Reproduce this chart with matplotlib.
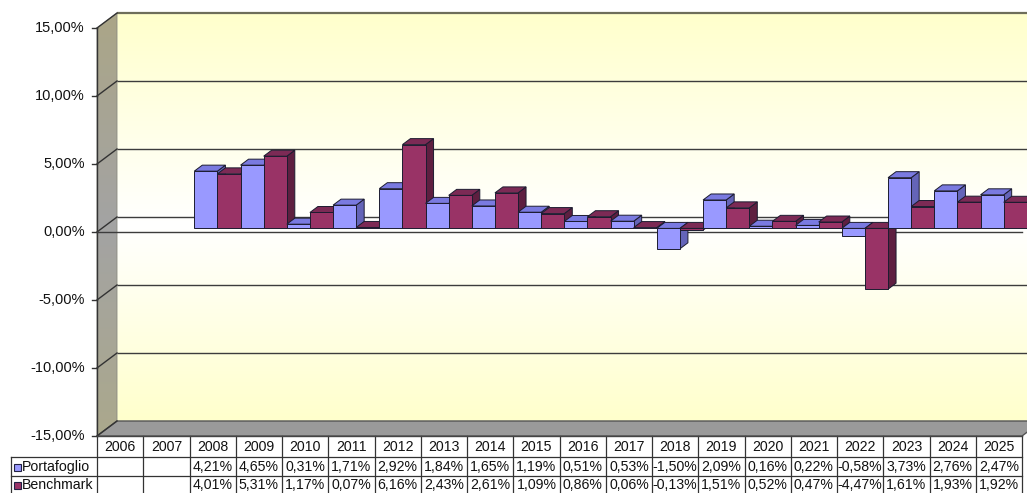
import numpy as np
import matplotlib
matplotlib.use("Agg")
import matplotlib.pyplot as plt
from matplotlib.patches import Polygon, Rectangle

plt.rcParams['font.family'] = ['Liberation Sans', 'DejaVu Sans']

# ---------------- data ----------------
years = ["2006", "2007", "2008", "2009", "2010", "2011", "2012", "2013", "2014", "2015",
         "2016", "2017", "2018", "2019", "2020", "2021", "2022", "2023", "2024", "2025"]
portafoglio = [None, None, 4.21, 4.65, 0.31, 1.71, 2.92, 1.84, 1.65, 1.19,
               0.51, 0.53, -1.50, 2.09, 0.16, 0.22, -0.58, 3.73, 2.76, 2.47]
benchmark = [None, None, 4.01, 5.31, 1.17, 0.07, 6.16, 2.43, 2.61, 1.09,
             0.86, 0.06, -0.13, 1.51, 0.52, 0.47, -4.47, 1.61, 1.93, 1.92]
series_names = ["Portafoglio", "Benchmark"]
y_ticks = [15, 10, 5, 0, -5, -10, -15]

# ---------------- styles ----------------
front_cols = ["#9999FF", "#993366"]
top_cols = ["#7A7AE0", "#7C2A55"]
side_cols = ["#6464B8", "#5E1F40"]
edge_col = "#1c1c30"

W, H = 1027, 493
fig = plt.figure(figsize=(W / 100, H / 100), dpi=100)
ax = fig.add_axes([0, 0, 1, 1])
ax.set_axis_off()

# pixel geometry -> data units
PXX = 46.25          # px per category
PXY = 13.6           # px per percent
X0 = 97              # px of category 0 front
Y15 = 28             # px of +15% front
def px2x(px):
    return (px - X0) / PXX
def py2y(py):
    return 15 - (py - Y15) / PXY
DX = 20 / PXX        # depth offset
DY = 15 / PXY
n = len(years)
ymin, ymax = -15, 15

# back wall gradient
N = 300
t = np.linspace(0, 1, N)
top_c = np.array([1.0, 1.0, 0.80])
mid_c = np.array([1.0, 1.0, 1.0])
bot_c = np.array([1.0, 1.0, 0.80])
mid_pos = 0.52
grad = np.zeros((N, 1, 3))
for k, tt in enumerate(t):
    if tt < mid_pos:
        a = tt / mid_pos
        grad[k, 0] = top_c * (1 - a) + mid_c * a
    else:
        a = (tt - mid_pos) / (1 - mid_pos)
        grad[k, 0] = mid_c * (1 - a) + bot_c * a
ax.imshow(grad, extent=(DX, n + DX, ymin + DY, ymax + DY), origin='upper',
          aspect='auto', zorder=0, interpolation='bilinear')

# side wall gradient
sg_top = np.array([0.67, 0.65, 0.53])
sg_mid = np.array([0.64, 0.64, 0.64])
sg_bot = np.array([0.67, 0.66, 0.55])
sgrad = np.zeros((N, 1, 3))
for k, tt in enumerate(t):
    if tt < 0.5:
        a = tt / 0.5
        sgrad[k, 0] = sg_top * (1 - a) + sg_mid * a
    else:
        a = (tt - 0.5) / 0.5
        sgrad[k, 0] = sg_mid * (1 - a) + sg_bot * a
side_poly = Polygon([(0, ymin), (DX, ymin + DY), (DX, ymax + DY), (0, ymax)],
                    closed=True, facecolor='none', edgecolor='#8a8a80', lw=0.6, zorder=1)
ax.add_patch(side_poly)
sim = ax.imshow(sgrad, extent=(0, DX, ymin, ymax + DY), origin='upper',
                aspect='auto', zorder=0.5, interpolation='bilinear')
sim.set_clip_path(side_poly)

# floor
floor = Polygon([(0, ymin), (DX, ymin + DY), (n + DX, ymin + DY), (n, ymin)],
                closed=True, facecolor='#9a9a9a', edgecolor='#555555', lw=1.0, zorder=1)
ax.add_patch(floor)

# value axis line
ax.plot([0, 0], [ymin, ymax], color='#333333', lw=1.0, zorder=1.7)

# gridlines on back wall + side-wall diagonals + ticks
for v in y_ticks:
    if v != ymin:
        lw = 1.6 if v == ymax else 1.0
        col = '#6e6e5a' if v == ymax else '#3c3c3c'
        ax.plot([DX, n + DX], [v + DY, v + DY], color=col, lw=lw, zorder=1.5,
                solid_capstyle='butt')
    ax.plot([0, DX], [v, v + DY], color='#333333', lw=1.0, zorder=1.6)
    ax.plot([px2x(92), 0], [v, v], color='#333333', lw=1.0, zorder=1.6)
    lab = f"{v:.2f}%".replace('.', ',')
    ax.text(px2x(85), v, lab, ha='right', va='center', fontsize=10.5, color='#111111')

# front zero line
ax.plot([0, n], [0, 0], color='#3c3c3c', lw=1.0, zorder=2)

# bars
f1 = 0.24
d = 0.40
bw = 0.5
z = 3.0
for i in range(n):
    for s, vals in enumerate([portafoglio, benchmark]):
        v = vals[i]
        if v is None:
            continue
        x0 = i + s * bw + f1 * DX
        x1 = x0 + bw
        ybase = f1 * DY
        top = max(v, 0)
        bot = min(v, 0)
        ddx, ddy = d * DX, d * DY
        side = Polygon([(x1, bot + ybase), (x1, top + ybase),
                        (x1 + ddx, top + ybase + ddy), (x1 + ddx, bot + ybase + ddy)],
                       closed=True, facecolor=side_cols[s], edgecolor=edge_col, lw=0.7, zorder=z)
        topf = Polygon([(x0, top + ybase), (x1, top + ybase),
                        (x1 + ddx, top + ybase + ddy), (x0 + ddx, top + ybase + ddy)],
                       closed=True, facecolor=top_cols[s], edgecolor=edge_col, lw=0.7, zorder=z + 0.01)
        front = Rectangle((x0, bot + ybase), bw, top - bot,
                          facecolor=front_cols[s], edgecolor=edge_col, lw=0.7, zorder=z + 0.02)
        ax.add_patch(side)
        ax.add_patch(topf)
        ax.add_patch(front)
        z += 0.05

# ---------------- data table ----------------
yl_top = py2y(436)
yl_h = py2y(457)
yl_r1 = py2y(476)
yl_bot = py2y(495)
tc = '#333333'
for i in range(n + 1):
    ax.plot([i, i], [yl_top, yl_bot], color=tc, lw=0.9, zorder=5)
for yy in [yl_h, yl_r1]:
    ax.plot([px2x(11), n], [yy, yy], color=tc, lw=0.9, zorder=5)
ax.plot([px2x(11), px2x(11)], [yl_h, yl_bot], color=tc, lw=0.9, zorder=5)
ax.plot([0, n], [yl_top, yl_top], color='#444444', lw=1.0, zorder=5)

hdr_y = py2y(447)
row_y = [py2y(467), py2y(485.5)]
for i, yr in enumerate(years):
    ax.text(i + 0.5, hdr_y, yr, ha='center', va='center', fontsize=10.2, color='#111111', zorder=6)
for s, vals in enumerate([portafoglio, benchmark]):
    ax.add_patch(Rectangle((px2x(14), row_y[s] - 3.5 / PXY), 7 / PXX, 7 / PXY,
                           facecolor=front_cols[s], edgecolor='#222244', lw=0.8, zorder=6))
    ax.text(px2x(22), row_y[s], series_names[s], ha='left', va='center',
            fontsize=10.2, color='#111111', zorder=6)
    for i, v in enumerate(vals):
        if v is None:
            continue
        lab = f"{v:.2f}%".replace('.', ',')
        ax.text(i + 0.5, row_y[s], lab, ha='center', va='center', fontsize=10.2,
                color='#111111', zorder=6)

ax.set_xlim(px2x(0), px2x(W))
ax.set_ylim(py2y(H), py2y(0))

fig.savefig("out.png", dpi=100, facecolor='white')
